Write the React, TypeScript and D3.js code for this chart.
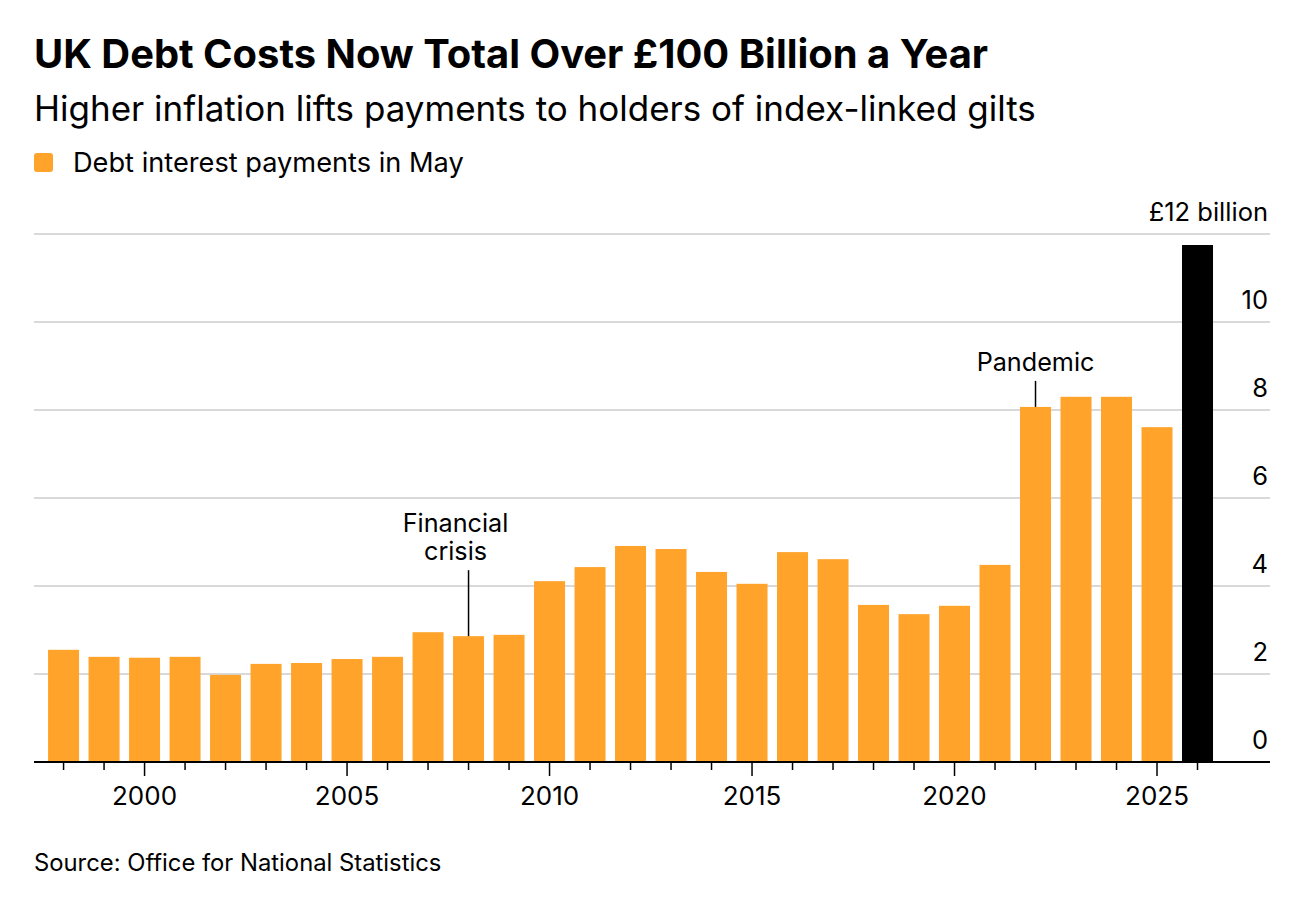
import React from "react";
import * as d3 from "d3";

// Axis positions of the bars (one bar per year, May payments)
const years = [
  1998, 1999, 2000, 2001, 2002, 2003, 2004, 2005, 2006, 2007,
  2008, 2009, 2010, 2011, 2012, 2013, 2014, 2015, 2016, 2017,
  2018, 2019, 2020, 2021, 2022, 2023, 2024, 2025, 2026,
];
// Debt interest payments in May, £ billion
const values = [
  2.55, 2.39, 2.37, 2.39, 1.98, 2.23, 2.25, 2.34, 2.39, 2.95,
  2.86, 2.89, 4.11, 4.43, 4.91, 4.84, 4.32, 4.05, 4.77, 4.61,
  3.57, 3.36, 3.55, 4.48, 8.07, 8.30, 8.30, 7.61, 11.75,
];
const yTicks = [0, 2, 4, 6, 8, 10, 12];
const xLabels = [2000, 2005, 2010, 2015, 2020, 2025];
const annotationYears = [2008, 2022];
const annotationLines = [["Financial", "crisis"], ["Pandemic"]];

const W = 1316;
const H = 902;
const LEFT = 34;
const RIGHT = 1270;
const ORANGE = "#FFA32B";
const FONT = "Inter, 'Liberation Sans', Arial, sans-serif";
const labelShift = [-13, 0];

export default function App() {
  const x = d3.scaleLinear().domain([1997.27, 2027.79]).range([LEFT, RIGHT]);
  const y = d3.scaleLinear().domain([0, 12]).range([762, 234]);
  const barW = 31;
  const last = years.length - 1;

  return (
    <svg width={W} height={H} style={{ position: "absolute", left: 0, top: 0, background: "#fff" }} fontFamily={FONT}>
      <rect width={W} height={H} fill="#fff" />
      <text x={34} y={68} fontSize={39.9} fontWeight={700} fill="#000">
        UK Debt Costs Now Total Over £100 Billion a Year
      </text>
      <text x={34} y={121} fontSize={35} fill="#000">
        Higher inflation lifts payments to holders of index-linked gilts
      </text>
      <rect x={34} y={153} width={19} height={19} rx={3} fill={ORANGE} />
      <text x={73} y={172} fontSize={27.2} fill="#000">
        Debt interest payments in May
      </text>

      {/* gridlines */}
      {yTicks.filter((t) => t > 0).map((t) => (
        <line key={t} x1={LEFT} x2={RIGHT} y1={y(t)} y2={y(t)} stroke="#cccccc" strokeWidth={1.5} />
      ))}
      {/* y labels */}
      {yTicks.map((t) => (
        <text key={t} x={1268} y={y(t) - 13} fontSize={25.5} textAnchor="end" fill="#000">
          {t === 12 ? "£12 billion" : t}
        </text>
      ))}

      {/* bars */}
      {years.map((yr, i) => (
        <rect
          key={yr}
          x={x(yr) - barW / 2}
          y={y(values[i])}
          width={barW}
          height={y(0) - y(values[i])}
          fill={i === last ? "#000" : ORANGE}
        />
      ))}

      {/* annotations */}
      {annotationYears.map((yr, ai) => {
        const lines = annotationLines[ai];
        const i = years.indexOf(yr);
        const cx = x(yr);
        const top = y(values[i]);
        const n = lines.length;
        const lineTop = top - 26 - (n === 1 ? 0 : 40);
        return (
          <g key={yr}>
            <line x1={cx} x2={cx} y1={lineTop} y2={top} stroke="#000" strokeWidth={1.5} />
            {lines.map((l, k) => (
              <text
                key={k}
                x={cx + labelShift[ai]}
                y={lineTop - 10 - (n - 1 - k) * 28}
                fontSize={25.2}
                textAnchor="middle"
                fill="#000"
              >
                {l}
              </text>
            ))}
          </g>
        );
      })}

      {/* x axis */}
      <line x1={LEFT} x2={RIGHT} y1={y(0)} y2={y(0)} stroke="#000" strokeWidth={2} />
      {years.map((yr) => (
        <line
          key={yr}
          x1={x(yr)}
          x2={x(yr)}
          y1={y(0)}
          y2={y(0) + (yr % 5 === 0 ? 14 : 8)}
          stroke="#000"
          strokeWidth={1.5}
        />
      ))}
      {xLabels.map((yr) => (
        <text key={yr} x={x(yr)} y={805} fontSize={26} textAnchor="middle" fill="#000">
          {yr}
        </text>
      ))}

      <text x={34} y={871} fontSize={23.8} fill="#000">
        Source: Office for National Statistics
      </text>
    </svg>
  );
}
